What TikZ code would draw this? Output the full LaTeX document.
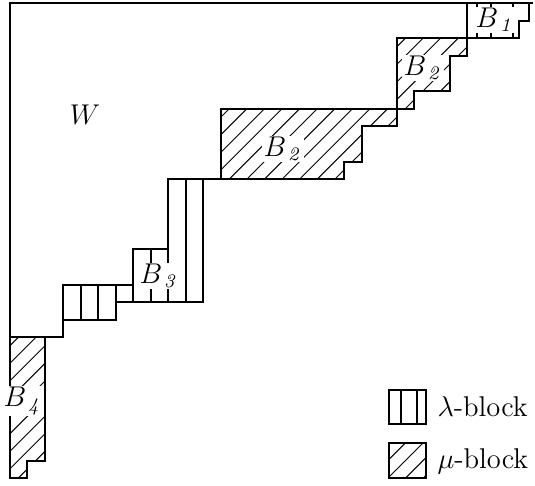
\documentclass[tikz,border=0pt]{standalone}
\newcommand\hatchfill{\foreach \c in {3.6,21.2,...,1000} \draw[thin] (\c,0) -- (0,\c);}
\begin{document}
\begin{tikzpicture}[x=0.42pt,y=-0.42pt,line width=0.5pt,
    mublock/.style={draw,path picture={\hatchfill}},
    lab/.style={fill=white,inner sep=0.5pt,font=\large}]
      \useasboundingbox (0,0) rectangle (535,485);
      % frame of W
      \draw (10,337) -- (10,3) -- (533,3);
      % mu-blocks
      \draw[mublock] (10,337) -- (45,337) -- (45,461) -- (27,461) -- (27,478) -- (10,478) -- cycle;
      \draw[mublock] (221,179) -- (221,109) -- (397,109) -- (397,126) -- (362,126) -- (362,162) -- (344,162) -- (344,179) -- cycle;
      \draw[mublock] (397,38) -- (467,38) -- (467,56) -- (450,56) -- (450,91) -- (414,91) -- (414,109) -- (397,109) -- cycle;
      % staircase and lambda-blocks
      \draw (45,337) -- (63,337) -- (63,285) -- (133,285) -- (133,249) -- (168,249) -- (168,179) -- (221,179);
      \draw (63,320) -- (116,320) -- (116,285);
      \draw (81,285) -- (81,320) (98,285) -- (98,320);
      \draw (116,302) -- (203,302) -- (203,179);
      \draw (133,285) -- (133,302);
      \draw (151,249) -- (151,302);
      \draw (168,249) -- (168,302);
      \draw (186,179) -- (186,302);
      \draw (467,3) -- (467,38) -- (519,38) -- (519,21) -- (529,21) -- (529,3);
      \draw (477,3) -- (477,38) (491,3) -- (491,38) (513,3) -- (513,38);
      % labels
      \node[font=\large] (w) at (85,115) {$W$};
      \node[lab] (b1) at (495,20) {$B_{\,\mathit{1}}$};
      \node[lab] (b2u) at (423,68) {$B_{\,\mathit{2}}$};
      \node[lab] (b2) at (283,149) {$B_{\,\mathit{2}}$};
      \node[lab] (b3) at (159,276) {$B_{\,\mathit{3}}$};
      \node[lab] (b4) at (23,401) {$B_{\,\mathit{4}}$};
      % legend
      \draw (389,390) rectangle (426,424);
      \draw (401,390) -- (401,424) (417,390) -- (417,424);
      \node[anchor=west] (lam) at (429,407) {\large $\lambda$-block};
      \draw[mublock] (389,443) rectangle (426,478);
      \node[anchor=west] (mu) at (429,461) {\large $\mu$-block};
\end{tikzpicture}
\end{document}
